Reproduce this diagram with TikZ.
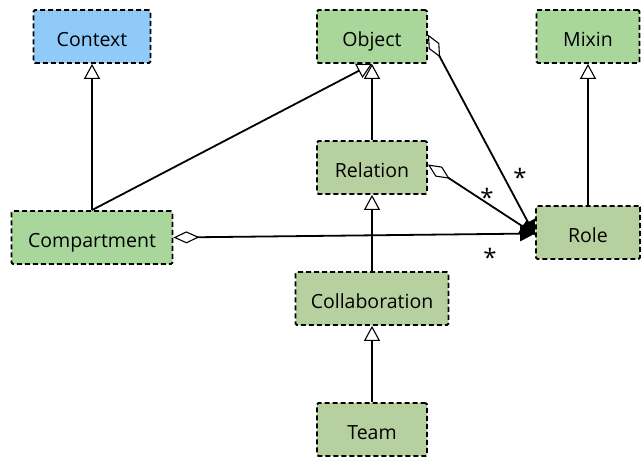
\documentclass[tikz,border=0pt]{standalone}
\usepackage{fontspec}
\setmainfont{Open Sans}
\usetikzlibrary{arrows.meta,positioning}
\definecolor{ctxblue}{HTML}{90CAF9}
\definecolor{lightgreen}{HTML}{A9D79B}
\definecolor{greygreen}{HTML}{B7D0A0}
\tikzset{
  classbox/.style={
    draw,
    dashed,
    dash pattern=on 5pt off 3pt,
    line width=1.8pt,
    rounded corners=1.5pt,
    minimum height=53pt,
    inner sep=2pt,
    text height=20pt,
    text depth=0pt,
    font=\fontsize{19.5}{22}\selectfont
  },
  inherit/.style={
    line width=1.8pt,
    -{Triangle[open,length=15pt,width=16pt,line width=1.1pt]}
  },
  aggr/.style={
    line width=1.8pt,
    {Diamond[open,length=26pt,width=12pt,line width=1.1pt]}-{Triangle[length=15pt,width=15pt]}
  },
  mult/.style={
    font=\fontsize{24}{26}\selectfont,
    inner sep=0pt
  }
}
\begin{document}
\begin{tikzpicture}[x=1pt,y=-1pt]
    \useasboundingbox (0,0) rectangle (641,459);

    \node[classbox, fill=ctxblue, minimum width=117pt] (ctx) at (92,36.5) {Context};
    \node[classbox, fill=lightgreen, minimum width=110pt] (obj) at (372,36.5) {Object};
    \node[classbox, fill=lightgreen, minimum width=103pt] (mixin) at (588,36.5) {Mixin};
    \node[classbox, fill=greygreen, minimum width=110pt] (rel) at (372,167.5) {Relation};
    \node[classbox, fill=lightgreen, minimum width=161pt] (comp) at (92,237.5) {Compartment};
    \node[classbox, fill=greygreen, minimum width=104pt] (role) at (588,232.5) {Role};
    \node[classbox, fill=greygreen, minimum width=153pt] (collab) at (372,298.5) {Collaboration};
    \node[classbox, fill=greygreen, minimum width=110pt] (team) at (372,429.5) {Team};

    % generalisations
    \draw[inherit] (comp.north) -- (ctx.south);
    \draw[inherit] (comp.north) -- (obj.south);
    \draw[inherit] (rel.north) -- (obj.south);
    \draw[inherit] (role.north) -- (mixin.south);
    \draw[inherit] (collab.north) -- (rel.south);
    \draw[inherit] (team.north) -- (collab.south);

    % aggregations
    \draw[aggr] ([yshift=2pt]obj.east) -- ([yshift=-3pt]role.west);
    \draw[aggr] ([yshift=3pt]rel.east) -- ([yshift=-2pt]role.west);
    \draw[aggr] (comp.east) -- ([yshift=-1pt]role.west);

    \node[mult] (m1) at (520,177) {*};
    \node[mult] (m2) at (487,197) {*};
    \node[mult] (m3) at (490,257) {*};
\end{tikzpicture}
\end{document}
